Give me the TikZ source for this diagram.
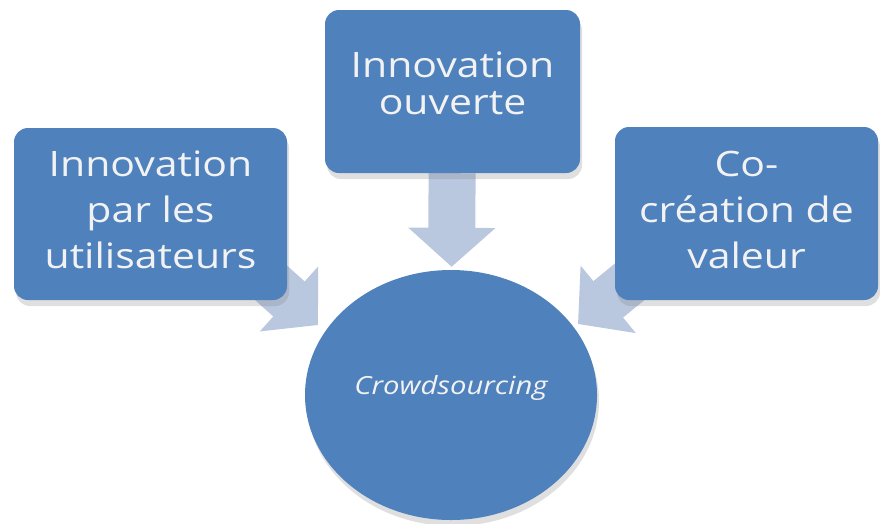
\documentclass[tikz,border=0pt]{standalone}
\usepackage{fontspec}
\setmainfont{Open Sans}[FakeStretch=1.17]
\usepackage{tikz}
\usepackage{color}
\usetikzlibrary{shapes,shadows,arrows.meta,backgrounds}

\definecolor{boxblue}{HTML}{4F81BD}
\definecolor{arrowblue}{HTML}{B9C7DF}
\definecolor{textwhite}{HTML}{F2F2F2}

\tikzset{
  idea/.style={rectangle, rounded corners=14pt, fill=boxblue, text=textwhite,
    align=center, inner sep=0pt, text depth=8pt, font=\fontsize{35}{46}\selectfont,
    drop shadow={opacity=0.25, shadow xshift=2pt, shadow yshift=-6pt}},
  bigarrow/.style={line width=47pt, draw=arrowblue,
    -{Triangle[length=39pt,width=85pt]}}
}

\begin{document}
\begin{tikzpicture}[x=1pt,y=-1pt]
      \useasboundingbox (0,0) rectangle (880,523);

       %draw boxes
      \node[idea, minimum width=273pt, minimum height=172pt] (user) at (150.5,214)
        {Innovation\\par les\\utilisateurs};
      \node[idea, minimum width=255pt, minimum height=163pt, text depth=17pt,
        font=\fontsize{35}{37}\selectfont] (open) at (452.5,91.5)
        {Innovation\\ouverte};
      \node[idea, minimum width=263pt, minimum height=173pt] (value) at (746.5,213.5)
        {Co-\\création de\\valeur};

       %draw circle
      \node[ellipse, fill=boxblue, text=textwhite, inner sep=0pt, text depth=20pt,
        minimum width=292pt, minimum height=250pt,
        font=\fontsize{25}{28}\selectfont\itshape,
        drop shadow={opacity=0.25, shadow xshift=2pt, shadow yshift=-6pt}]
        (crowd) at (451,395) {Crowdsourcing};

      \coordinate (userfoot) at (230,246);
      \coordinate (usertip) at (318,325);
      \coordinate (valuefoot) at (671,248);
      \coordinate (valuetip) at (578,324);

       %draw arrows
      \begin{scope}[on background layer]
        \draw[bigarrow, shorten >=3pt] (open) -- (crowd);
        \draw[bigarrow] (userfoot) -- (usertip);
        \draw[bigarrow] (valuefoot) -- (valuetip);
      \end{scope}
    \end{tikzpicture}
\end{document}
